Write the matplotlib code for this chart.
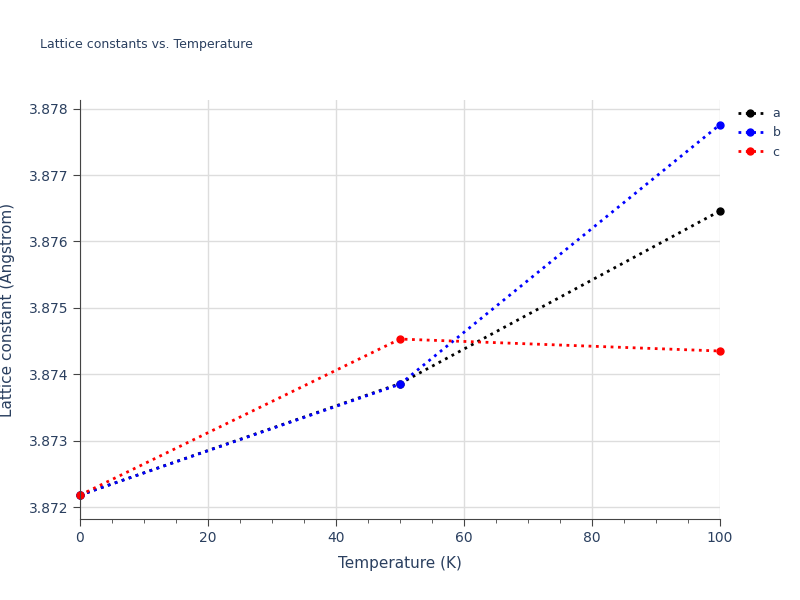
import matplotlib
matplotlib.use("Agg")
import matplotlib.pyplot as plt

temperature = [0, 50, 100]
a_vals = [3.87218, 3.87386, 3.87646]
b_vals = [3.87218, 3.87385, 3.87776]
c_vals = [3.87218, 3.87453, 3.87435]
series_names = ["a", "b", "c"]
series_colors = ["black", "blue", "red"]

txt = "#2a3f5f"
fig = plt.figure(figsize=(8, 6), dpi=100)
ax = fig.add_axes([0.1, 0.135, 0.8, 0.6983])

for vals, name, col in zip([a_vals, b_vals, c_vals], series_names, series_colors):
    ax.plot(temperature, vals, linestyle=":", linewidth=2, color=col,
            marker="o", markersize=5, label=name, clip_on=False)

ax.set_xlim(0, 100)
ax.set_ylim(3.87182, 3.87813)
ax.set_xticks([0, 20, 40, 60, 80, 100])
ax.set_xticks(range(0, 101, 5), minor=True)
ax.set_yticks([3.872, 3.873, 3.874, 3.875, 3.876, 3.877, 3.878])
ax.yaxis.set_major_formatter(matplotlib.ticker.FormatStrFormatter("%.3f"))
ax.grid(True, color="#dddddd", linewidth=1)
ax.set_axisbelow(True)
for s in ["top", "right"]:
    ax.spines[s].set_visible(False)
for s in ["left", "bottom"]:
    ax.spines[s].set_color("#444444")
ax.tick_params(colors="#444444", labelcolor=txt, labelsize=10, length=5)
ax.tick_params(which="minor", length=3, color="#444444")
ax.set_xlabel("Temperature (K)", color=txt, fontsize=11, labelpad=8)
ax.set_ylabel("Lattice constant (Angstrom)", color=txt, fontsize=11, labelpad=10)
fig.text(0.05, 0.92, "Lattice constants vs. Temperature", color=txt, fontsize=9)
ax.legend(loc="upper left", bbox_to_anchor=(1.01, 1.01), frameon=False,
          fontsize=9, labelcolor=txt, handlelength=2)

fig.savefig("out.png")
